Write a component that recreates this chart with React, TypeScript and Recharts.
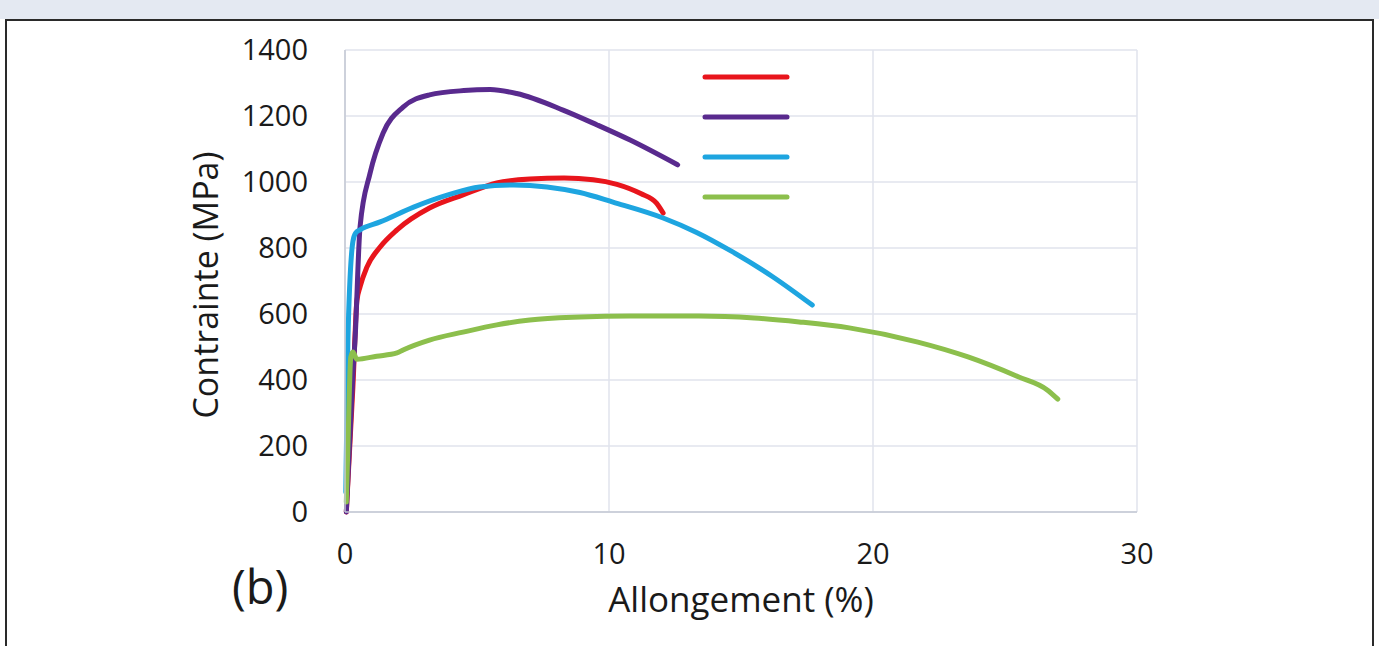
import { LineChart, Line, XAxis, YAxis, CartesianGrid, Legend } from "recharts";

// Courbes contrainte / allongement (b)
const redCurve = [
  { x: 0.05, y: 0 }, { x: 0.3, y: 380 }, { x: 0.45, y: 640 }, { x: 0.57, y: 682 },
  { x: 0.83, y: 742 }, { x: 1.33, y: 803 }, { x: 1.97, y: 855 }, { x: 3.2, y: 921 },
  { x: 4.47, y: 961 }, { x: 5.75, y: 997 }, { x: 7.0, y: 1009 }, { x: 8.3, y: 1012 },
  { x: 9.4, y: 1007 }, { x: 10.3, y: 993 }, { x: 11.2, y: 965 }, { x: 11.8, y: 936 },
  { x: 12.05, y: 906 },
];

const purpleCurve = [
  { x: 0.05, y: 0 }, { x: 0.3, y: 420 }, { x: 0.38, y: 521 }, { x: 0.57, y: 864 },
  { x: 0.95, y: 1027 }, { x: 1.44, y: 1148 }, { x: 2.2, y: 1227 }, { x: 3.2, y: 1264 },
  { x: 4.5, y: 1277 }, { x: 5.5, y: 1280 }, { x: 6.5, y: 1268 }, { x: 8.26, y: 1218 },
  { x: 9.55, y: 1173 }, { x: 10.8, y: 1127 }, { x: 12.6, y: 1052 },
];

const blueCurve = [
  { x: 0.03, y: 60 }, { x: 0.11, y: 521 }, { x: 0.3, y: 820 }, { x: 0.4, y: 845 },
  { x: 0.57, y: 855 }, { x: 1.33, y: 879 }, { x: 2.6, y: 924 }, { x: 3.9, y: 961 },
  { x: 5.1, y: 985 }, { x: 6.4, y: 991 }, { x: 7.65, y: 985 }, { x: 8.9, y: 968 },
  { x: 10.15, y: 939 }, { x: 12.05, y: 891 }, { x: 13.3, y: 848 }, { x: 14.6, y: 792 },
  { x: 16.2, y: 713 }, { x: 17.7, y: 627 },
];

const greenCurve = [
  { x: 0.05, y: 30 }, { x: 0.11, y: 200 }, { x: 0.22, y: 470 }, { x: 0.3, y: 485 },
  { x: 0.45, y: 463 }, { x: 1.2, y: 472 }, { x: 1.97, y: 482 }, { x: 2.2, y: 491 },
  { x: 3.2, y: 521 }, { x: 4.47, y: 545 }, { x: 5.75, y: 567 }, { x: 7.0, y: 582 },
  { x: 8.9, y: 591 }, { x: 10.8, y: 594 }, { x: 13.4, y: 594 }, { x: 15.5, y: 588 },
  { x: 17.2, y: 576 }, { x: 19.1, y: 558 }, { x: 21.7, y: 515 }, { x: 23.6, y: 470 },
  { x: 25.5, y: 410 }, { x: 26.6, y: 370 }, { x: 27.0, y: 342 },
];

const xTicks = [0, 10, 20, 30];
const yTicks = [0, 200, 400, 600, 800, 1000, 1200, 1400];

const series = [
  { key: "red", data: redCurve, color: "#e8151c" },
  { key: "purple", data: purpleCurve, color: "#592a8e" },
  { key: "blue", data: blueCurve, color: "#1ea5e0" },
  { key: "green", data: greenCurve, color: "#8cbf4c" },
];

const FONT = "'Open Sans', sans-serif";

function LegendLines() {
  return (
    <svg width={100} height={140}>
      {series.map((s, i) => (
        <line
          key={s.key}
          x1={5}
          x2={87}
          y1={12 + i * 40}
          y2={12 + i * 40}
          stroke={s.color}
          strokeWidth={5}
          strokeLinecap="round"
        />
      ))}
    </svg>
  );
}

function YTitle({ viewBox }: any) {
  const x = viewBox.x + 205;
  const y = viewBox.y + viewBox.height / 2 + 4;
  return (
    <text
      x={x}
      y={y}
      transform={`rotate(-90, ${x}, ${y})`}
      textAnchor="middle"
      dominantBaseline="central"
      fontFamily={FONT}
      fontSize={34}
      fill="#1a1a1a"
    >
      Contrainte (MPa)
    </text>
  );
}

export default function App() {
  return (
    <div style={{ position: "absolute", left: 0, top: 0, width: 1379, height: 646, background: "#fff", overflow: "hidden" }}>
      <div style={{ position: "absolute", left: 0, top: 0, width: 1379, height: 19, background: "#e4e9f2" }} />
      <div
        style={{
          position: "absolute",
          left: 5,
          top: 19,
          width: 1365,
          height: 640,
          borderTop: "2px solid #2a2a2a",
          borderLeft: "2px solid #2a2a2a",
          borderRight: "2px solid #2a2a2a",
        }}
      />
      <div style={{ position: "absolute", left: 0, top: 0 }}>
        <LineChart width={1379} height={646} margin={{ top: 50, right: 242, left: 0, bottom: 24 }}>
          <CartesianGrid stroke="#e0e3ec" strokeWidth={1.5} />
          <XAxis
            type="number"
            dataKey="x"
            domain={[0, 30]}
            ticks={xTicks}
            height={110}
            tickSize={0}
            tickMargin={31}
            axisLine={{ stroke: "#c4c8d3", strokeWidth: 1.5 }}
            tick={{ fontFamily: FONT, fontSize: 29, fill: "#1a1a1a" }}
            label={{ value: "Allongement (%)", position: "insideBottom", offset: 10, fontFamily: FONT, fontSize: 35, fill: "#1a1a1a" }}
          />
          <YAxis
            type="number"
            dataKey="y"
            domain={[0, 1400]}
            ticks={yTicks}
            width={345}
            tickSize={0}
            tickMargin={37}
            axisLine={{ stroke: "#c4c8d3", strokeWidth: 1.5 }}
            tick={{ fontFamily: FONT, fontSize: 29, fill: "#1a1a1a" }}
            label={{ content: YTitle }}
          />
          <Legend
            layout="vertical"
            align="center"
            verticalAlign="middle"
            content={() => <LegendLines />}
            wrapperStyle={{ left: 700, top: 65, width: 100 }}
          />
          {series.map((s) => (
            <Line
              key={s.key}
              data={s.data}
              dataKey="y"
              type="monotone"
              stroke={s.color}
              strokeWidth={5}
              strokeLinecap="round"
              dot={false}
              isAnimationActive={false}
            />
          ))}
        </LineChart>
      </div>
      <div style={{ position: "absolute", left: 232, top: 554, fontFamily: FONT, fontSize: 47, color: "#1a1a1a" }}>(b)</div>
    </div>
  );
}
